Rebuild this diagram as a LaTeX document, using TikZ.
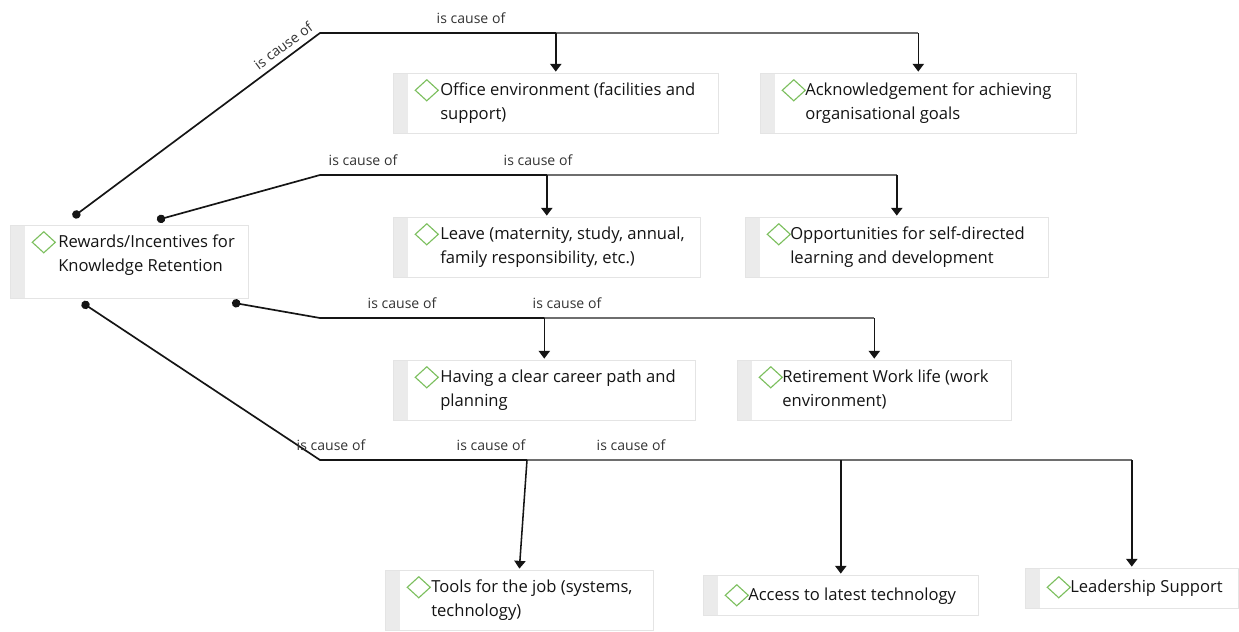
\documentclass[tikz,border=0pt]{standalone}
\usepackage{fontspec}
\setmainfont{Open Sans}
\usetikzlibrary{arrows.meta, positioning, calc}
\definecolor{cmgreen}{HTML}{7CBF5E}
\definecolor{cmstrip}{HTML}{EBEBEB}
\definecolor{cmedge}{HTML}{E4E4E4}
\definecolor{cmline}{HTML}{151515}
\definecolor{cmgray}{HTML}{6E6E6E}
\definecolor{cmtext}{HTML}{141414}
\newlength{\pxu}
\setlength{\pxu}{0.025cm}
\tikzset{diay/.store in=\cmdiay, diay=17}

\begin{document}
\begin{tikzpicture}[
  x=0.025cm, y=-0.025cm,
  every node/.style={font=\fontsize{11.8}{16.6}\selectfont, text=cmtext},
  concept/.style={rectangle, draw=cmedge, fill=white, anchor=north west, inner sep=0pt,
    path picture={
      \fill[cmstrip] (path picture bounding box.north west) rectangle ($(path picture bounding box.south west)+(15,0)$);
      \draw[cmgreen, line width=0.8pt] ($(path picture bounding box.north west)+(22,\cmdiay)$) -- ++(11.5,-10.5) -- ++(11.5,10.5) -- ++(-11.5,10.5) -- cycle;
    }},
  ctext/.style={anchor=north west, inner sep=0pt, align=left},
  lbl/.style={font=\fontsize{10}{12}\selectfont, inner sep=1pt, text=black!80},
  link/.style={draw=cmline, line width=1.2pt, {Circle[length=6pt]}-},
  along/.style={draw=cmgray, line width=1.2pt},
  tip/.style={draw=cmline, line width=1.1pt, shorten >=1pt, -{Triangle[width=8pt,length=5.5pt]}},
]
\useasboundingbox (0,0) rectangle (1239,632);

% concept boxes
\node[concept, minimum width=238\pxu, minimum height=73\pxu] (root) at (10,225) {};
\node[ctext] (root-t) at ($(root.north west)+(48,10)$) {Rewards/Incentives for\\Knowledge Retention};

\node[concept, minimum width=325\pxu, minimum height=60\pxu] (office) at (393,73) {};
\node[ctext] (office-t) at ($(office.north west)+(47,10)$) {Office environment (facilities and\\support)};
\node[concept, minimum width=316\pxu, minimum height=60\pxu] (ack) at (760,73) {};
\node[ctext] (ack-t) at ($(ack.north west)+(45,10)$) {Acknowledgement for achieving\\organisational goals};

\node[concept, minimum width=307\pxu, minimum height=60\pxu] (leave) at (393,217) {};
\node[ctext] (leave-t) at ($(leave.north west)+(47,10)$) {Leave (maternity, study, annual,\\family responsibility, etc.)};
\node[concept, minimum width=303\pxu, minimum height=60\pxu] (opp) at (745,217) {};
\node[ctext] (opp-t) at ($(opp.north west)+(45,10)$) {Opportunities for self-directed\\learning and development};

\node[concept, minimum width=302\pxu, minimum height=60\pxu] (career) at (393,360) {};
\node[ctext] (career-t) at ($(career.north west)+(47,10)$) {Having a clear career path and\\planning};
\node[concept, minimum width=274\pxu, minimum height=60\pxu] (retire) at (737,360) {};
\node[ctext] (retire-t) at ($(retire.north west)+(45,10)$) {Retirement Work life (work\\environment)};

\node[concept, minimum width=268\pxu, minimum height=60\pxu] (tools) at (385,570) {};
\node[ctext] (tools-t) at ($(tools.north west)+(46,10)$) {Tools for the job (systems,\\technology)};
\node[concept, diay=20, minimum width=275\pxu, minimum height=40\pxu] (access) at (703,575) {};
\node[ctext] (access-t) at ($(access.north west)+(45,13)$) {Access to latest technology};
\node[concept, diay=19, minimum width=213\pxu, minimum height=40\pxu] (leader) at (1025,568) {};
\node[ctext] (leader-t) at ($(leader.north west)+(45,12)$) {Leadership Support};

% start points on the root and the bends
\coordinate (r1) at ($(root.north west)+(63,-8)$);
\coordinate (r2) at ($(root.north west)+(147,-5)$);
\coordinate (r3) at ($(root.south west)+(222,4)$);
\coordinate (r4) at ($(root.south west)+(72,4)$);
\coordinate (j1) at (320,33);
\coordinate (j2) at (320,175);
\coordinate (j3) at (320,318);
\coordinate (j4) at (320,460);
\coordinate (j4a) at (527,460);

% first group
\draw[along] (j1) -- (j1 -| ack.north);
\draw[tip] (j1 -| office.north) -- (office.north);
\draw[tip] (j1 -| ack.north) -- (ack.north);
\draw[link] (r1) -- node[lbl, sloped, above=3pt, pos=0.88] (c1a) {is cause of} (j1) -- (j1 -| office.north);
\node[lbl] (c1b) at (471,18) {is cause of};

% second group
\draw[along] (j2) -- (j2 -| opp.north);
\draw[tip] (j2 -| leave.north) -- (leave.north);
\draw[tip] (j2 -| opp.north) -- (opp.north);
\draw[link] (r2) -- (j2) -- (j2 -| leave.north);
\node[lbl] (c2a) at (363,160) {is cause of};
\node[lbl] (c2b) at (538,160) {is cause of};

% third group
\draw[along] (j3) -- (j3 -| retire.north);
\draw[tip] (j3 -| career.north) -- (career.north);
\draw[tip] (j3 -| retire.north) -- (retire.north);
\draw[link] (r3) -- (j3) -- (j3 -| career.north);
\node[lbl] (c3a) at (402,303) {is cause of};
\node[lbl] (c3b) at (567,303) {is cause of};

% fourth group
\draw[along] (j4) -- (j4 -| leader.north);
\draw[tip] (j4a) -- (tools.north);
\draw[tip] (j4 -| access.north) -- (access.north);
\draw[tip] (j4 -| leader.north) -- (leader.north);
\draw[link] (r4) -- (j4) -- (j4a);
\node[lbl] (c4a) at (331,445) {is cause of};
\node[lbl] (c4b) at (491,445) {is cause of};
\node[lbl] (c4c) at (631,445) {is cause of};

\end{tikzpicture}
\end{document}
